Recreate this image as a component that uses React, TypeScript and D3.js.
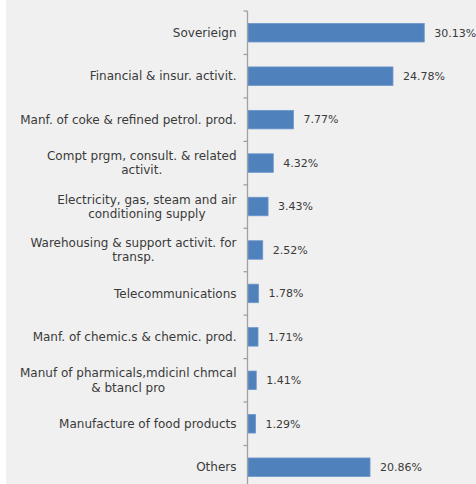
import React from "react";
import * as d3 from "d3";

const categories: string[] = [
  "Soverieign",
  "Financial & insur. activit.",
  "Manf. of coke & refined petrol. prod.",
  "Compt prgm, consult. & related activit.",
  "Electricity, gas, steam and air conditioning supply",
  "Warehousing & support activit. for transp.",
  "Telecommunications",
  "Manf. of chemic.s & chemic. prod.",
  "Manuf of pharmicals,mdicinl chmcal & btancl pro",
  "Manufacture of food products",
  "Others",
];

const labelLines: string[][] = [
  ["Soverieign"],
  ["Financial & insur. activit."],
  ["Manf. of coke & refined petrol. prod."],
  ["Compt prgm, consult. & related", "activit."],
  ["Electricity, gas, steam and air", "conditioning supply"],
  ["Warehousing & support activit. for", "transp."],
  ["Telecommunications"],
  ["Manf. of chemic.s & chemic. prod."],
  ["Manuf of pharmicals,mdicinl chmcal", "& btancl pro"],
  ["Manufacture of food products"],
  ["Others"],
];

const values: number[] = [30.13, 24.78, 7.77, 4.32, 3.43, 2.52, 1.78, 1.71, 1.41, 1.29, 20.86];

const W = 476;
const H = 484;
const axisX = 247.5;
const top = 11;
const step = 43.45;
const font = "'DejaVu Sans', sans-serif";
const labelSize = 12;
const valueSize = 11;

let ctx: CanvasRenderingContext2D | null = null;
function measure(s: string, size: number): number {
  if (!ctx) {
    const c = document.createElement("canvas");
    ctx = c.getContext("2d");
  }
  if (!ctx) return s.length * size * 0.55;
  ctx.font = `${size}px 'DejaVu Sans'`;
  return ctx.measureText(s).width;
}

export default function App() {
  const y = d3
    .scaleBand<string>()
    .domain(categories)
    .range([top, top + step * categories.length])
    .paddingInner(0.574)
    .paddingOuter(0.287);
  const x = d3.scaleLinear().domain([0, 35]).range([248, 248 + 35 * 5.85]);
  const tickYs = d3.range(categories.length + 1).map((i) => top + i * y.step());
  const lineH = 14.3;
  const labelRight = axisX - 11;

  return (
    <svg
      width={W}
      height={H}
      style={{ position: "absolute", left: 0, top: 0, display: "block" }}
      fontFamily={font}
    >
      <rect x={0} y={0} width={W} height={H} fill="#ffffff" />
      <rect x={6} y={0} width={W - 6} height={H} fill="#f0f0f0" />
      {categories.map((c, i) => {
        const by = y(c)!;
        const bh = y.bandwidth();
        const cy = by + bh / 2;
        const lines = labelLines[i];
        const maxW = Math.max(...lines.map((l) => measure(l, labelSize)));
        const centerX = labelRight - maxW / 2;
        const multi = lines.length > 1;
        return (
          <g key={c}>
            <rect
              x={x(0)}
              y={by}
              width={x(values[i]) - x(0)}
              height={bh}
              fill="#4f81bd"
              stroke="#6d96cb"
              strokeWidth={0.8}
            />
            <text
              x={x(values[i]) + 10}
              y={cy}
              dy="0.35em"
              fill="#3a3a3a"
              fontSize={valueSize}
            >
              {values[i].toFixed(2) + "%"}
            </text>
            <text
              textAnchor={multi ? "middle" : "end"}
              fill="#3a3a3a"
              fontSize={labelSize}
            >
              {lines.map((l, k) => (
                <tspan
                  key={k}
                  x={multi ? centerX : labelRight}
                  y={cy + (k - (lines.length - 1) / 2) * lineH}
                  dy="0.35em"
                >
                  {l}
                </tspan>
              ))}
            </text>
          </g>
        );
      })}
      <line x1={axisX} x2={axisX} y1={top} y2={H} stroke="#a0a0a0" strokeWidth={1.3} />
      {tickYs.map((t, i) => (
        <line key={i} x1={axisX - 4} x2={axisX} y1={t} y2={t} stroke="#a0a0a0" strokeWidth={1.3} />
      ))}
    </svg>
  );
}
